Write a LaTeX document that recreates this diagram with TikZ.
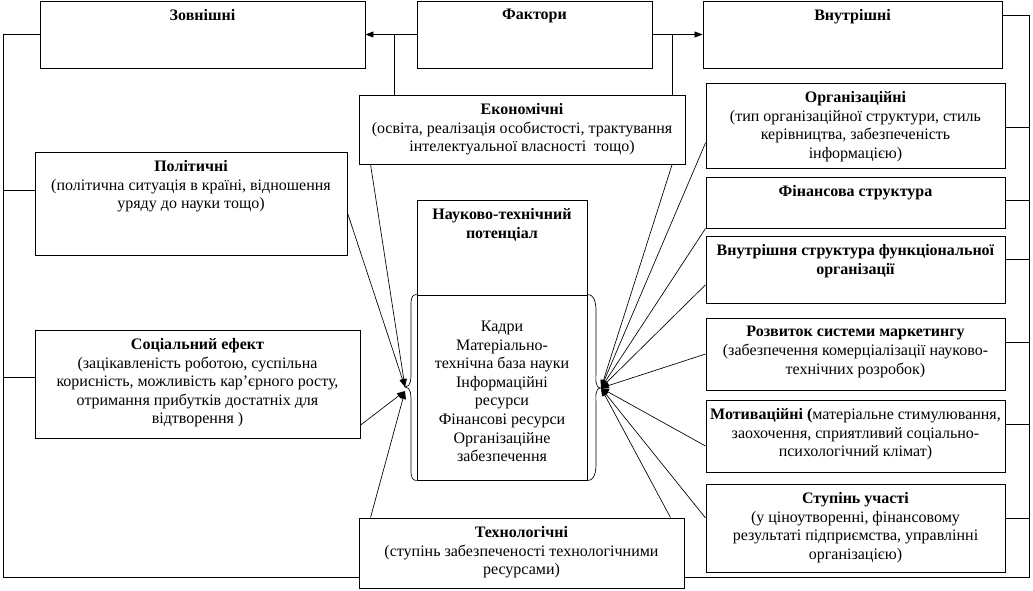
\documentclass[tikz,border=0pt]{standalone}
\usepackage{fontspec}
\setmainfont{Liberation Serif}
\usetikzlibrary{arrows.meta,fit}

\begin{document}
\begin{tikzpicture}[x=0.75pt, y=-0.75pt,
    box/.style={draw, line width=0.7pt, fill=white, inner sep=0pt},
    txt/.style={anchor=north, align=center, inner sep=0pt, font=\fontsize{12}{13.9}\selectfont},
    ln/.style={line width=0.5pt},
    >={Triangle[length=6pt,width=4.5pt]}]
    \useasboundingbox (0,0) rectangle (1033,590);
    % Factors
    \node[box, fit={(40,1) (365,68)}] (zovn) {};
    \node[box, fit={(417,1) (652,68)}] (fakt) {};
    \node[box, fit={(703,1) (1002,68)}] (vnut) {};
    \node[txt, below=6.5pt] (zovnt) at (zovn.north) {\textbf{Зовнішні}};
    \node[txt, below=6.5pt] (faktt) at (fakt.north) {\textbf{Фактори}};
    \node[txt, below=6.5pt] (vnutt) at (vnut.north) {\textbf{Внутрішні}};
    % External
    \node[box, fit={(359,95) (685,164)}] (eco) {};
    \node[txt, below=6.5pt] (ecot) at (eco.north) {\textbf{Економічні}\\(освіта, реалізація особистості, трактування\\інтелектуальної власності~~тощо)};
    \node[box, fit={(35,152) (347,255)}] (pol) {};
    \node[txt, below=6.5pt] (polt) at (pol.north) {\textbf{Політичні}\\(політична ситуація в країні, відношення\\уряду до науки тощо)};
    \node[box, fit={(35,330) (360,438)}] (soc) {};
    \node[txt, below=6.5pt] (soct) at (soc.north) {\textbf{Соціальний ефект}\\(зацікавленість роботою, суспільна\\корисність, можливість кар’єрного росту,\\отримання прибутків достатніх для\\відтворення )};
    \node[box, fit={(359,518) (684,588)}] (tech) {};
    \node[txt, below=6.5pt] (techt) at (tech.north) {\textbf{Технологічні}\\(ступінь забезпеченості технологічними\\ресурсами)};
    % Potential
    \node[box, fit={(417,200) (587,295)}] (ntp) {};
    \node[txt, below=6.5pt] (ntpt) at (ntp.north) {\textbf{Науково-технічний}\\\textbf{потенціал}};
    \node[box, fit={(417,295) (587,480)}] (ntpres) {};
    \node[txt, anchor=center, yshift=-3pt] (ntprest) at (ntpres.center) {Кадри\\Матеріально-\\технічна база науки\\Інформаційні\\ресурси\\Фінансові ресурси\\Організаційне\\забезпечення};
    % Internal
    \node[box, fit={(706,83) (1005,168)}] (org) {};
    \node[txt, below=6.5pt] (orgt) at (org.north) {\textbf{Організаційні}\\(тип організаційної структури, стиль\\керівництва, забезпеченість\\інформацією)};
    \node[box, fit={(706,177) (1005,228)}] (fin) {};
    \node[txt, below=6.5pt] (fint) at (fin.north) {\textbf{Фінансова структура}};
    \node[box, fit={(706,236) (1005,303)}] (vstr) {};
    \node[txt, below=6.5pt] (vstrt) at (vstr.north) {\textbf{Внутрішня структура функціональної}\\\textbf{організації}};
    \node[box, fit={(706,318) (1005,390)}] (mark) {};
    \node[txt, below=6.5pt] (markt) at (mark.north) {\textbf{Розвиток системи маркетингу}\\(забезпечення комерціалізації науково-\\технічних розробок)};
    \node[box, fit={(706,400) (1005,472)}] (mot) {};
    \node[txt, below=6.5pt] (mott) at (mot.north) {\textbf{Мотиваційні (}матеріальне стимулювання,\\заохочення, сприятливий соціально-\\психологічний клімат)};
    \node[box, fit={(706,484) (1005,572)}] (uch) {};
    \node[txt, below=6.5pt] (ucht) at (uch.north) {\textbf{Ступінь участі}\\(у ціноутворенні, фінансовому\\результаті підприємства, управлінні\\організацією)};
    % top arrows
    \draw[ln, ->] (fakt.west) -- (zovn.east);
    \draw[ln, ->] (fakt.east) -- (vnut.west);
    \coordinate (fl) at (394,34.5);
    \coordinate (fr) at (672,34.5);
    \draw[ln] (fl) -- (fl |- eco.north);
    \draw[ln] (fr) -- (fr |- eco.north);
    % left frame
    \coordinate (lt) at (3,34.5);
    \coordinate (lb) at (3,577);
    \coordinate (lp) at (3,190);
    \coordinate (ls) at (3,377);
    \draw[ln] (zovn.west) -- (lt) -- (lb) -- (lb -| tech.west);
    \draw[ln] (lp) -- (lp -| pol.west);
    \draw[ln] (ls) -- (ls -| soc.west);
    % right frame
    \coordinate (rt) at (1029,15);
    \coordinate (rb) at (1029,577);
    \draw[ln] (rt -| vnut.east) -- (rt) -- (rb) -- (rb -| tech.east);
    \foreach \n/\y in {org/127, fin/200, vstr/259, mark/342, mot/424, uch/518}{
        \coordinate (rk) at (1029,\y);
        \draw[ln] (rk) -- (rk -| \n.east);
    }
    % braces
    \coordinate (inl) at (405,387);
    \coordinate (inr) at (601,388);
    \draw[ln] (ntpres.north west) to[out=180,in=90] (411,311) -- (411,372) to[out=-90,in=0] (inl)
        to[out=0,in=90] (411,402) -- (411,464) to[out=-90,in=180] (ntpres.south west);
    \draw[ln] (ntpres.north east) to[out=0,in=90] (596,311) -- (596,372) to[out=-90,in=180] (inr)
        to[out=180,in=90] (596,404) -- (596,464) to[out=-90,in=0] (ntpres.south east);
    % into the potential
    \draw[ln, ->] ([xshift=9pt]eco.south west) -- (inl);
    \draw[ln, ->] ([yshift=-7pt]pol.east) -- (inl);
    \draw[ln, ->] ([yshift=10pt]soc.south east) -- ([yshift=-3pt]inl);
    \draw[ln, ->] ([xshift=9pt]tech.north west) -- ([yshift=-3pt]inl);
    \draw[ln, ->] ([xshift=-10pt]eco.south east) -- (inr);
    \draw[ln, ->] ([yshift=-13pt]org.west) -- (inr);
    \draw[ln, ->] (fin.south west) -- (inr);
    \draw[ln, ->] ([yshift=-11.5pt]vstr.west) -- (inr);
    \draw[ln, ->] (mark.west) -- (inr);
    \draw[ln, ->] ([yshift=-7.5pt]mot.west) -- (inr);
    \draw[ln, ->] ([yshift=7.5pt]uch.west) -- (inr);
    \draw[ln, ->] ([xshift=-10.5pt]tech.north east) -- (inr);
\end{tikzpicture}
\end{document}
